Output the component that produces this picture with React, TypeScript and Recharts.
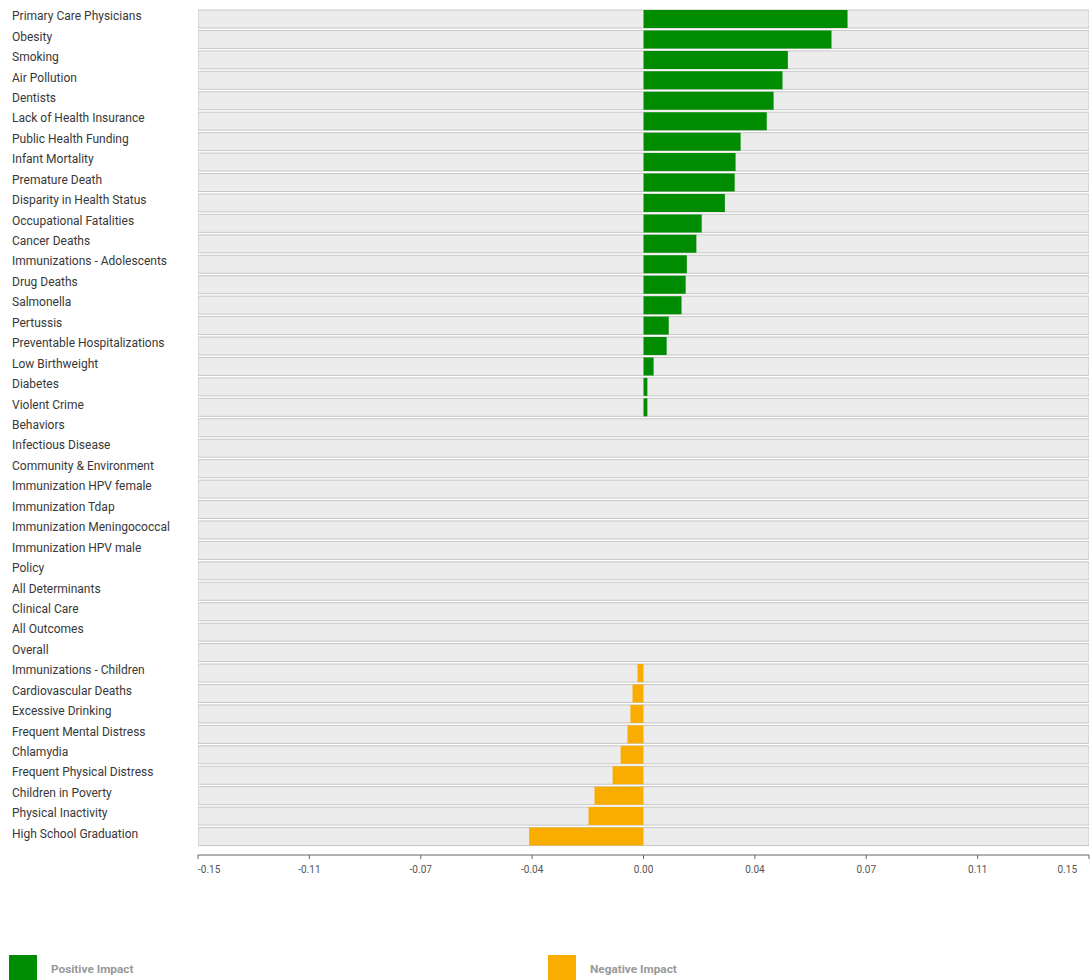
import React from "react";
import { BarChart, Bar, XAxis, YAxis, Cell } from "recharts";

// indicator names, top to bottom
const categories = [
  "Primary Care Physicians",
  "Obesity",
  "Smoking",
  "Air Pollution",
  "Dentists",
  "Lack of Health Insurance",
  "Public Health Funding",
  "Infant Mortality",
  "Premature Death",
  "Disparity in Health Status",
  "Occupational Fatalities",
  "Cancer Deaths",
  "Immunizations - Adolescents",
  "Drug Deaths",
  "Salmonella",
  "Pertussis",
  "Preventable Hospitalizations",
  "Low Birthweight",
  "Diabetes",
  "Violent Crime",
  "Behaviors",
  "Infectious Disease",
  "Community & Environment",
  "Immunization HPV female",
  "Immunization Tdap",
  "Immunization Meningococcal",
  "Immunization HPV male",
  "Policy",
  "All Determinants",
  "Clinical Care",
  "All Outcomes",
  "Overall",
  "Immunizations - Children",
  "Cardiovascular Deaths",
  "Excessive Drinking",
  "Frequent Mental Distress",
  "Chlamydia",
  "Frequent Physical Distress",
  "Children in Poverty",
  "Physical Inactivity",
  "High School Graduation",
];

const impacts = [
  0.0687, 0.0633, 0.0486, 0.0468, 0.0438, 0.0415, 0.0327, 0.031, 0.0307,
  0.0274, 0.0196, 0.0178, 0.0146, 0.0142, 0.0128, 0.0085, 0.0078, 0.0034,
  0.0013, 0.0013, 0, 0, 0, 0, 0, 0, 0, 0, 0, 0, 0, 0, -0.002, -0.0037,
  -0.0044, -0.0054, -0.0077, -0.0104, -0.0165, -0.0185, -0.0385,
];

const xDomain = [-0.15, 0.15];
const xTicks = [-0.15, -0.1125, -0.075, -0.0375, 0, 0.0375, 0.075, 0.1125, 0.15];
const xTickLabels = ["-0.15", "-0.11", "-0.07", "-0.04", "0.00", "0.04", "0.07", "0.11", "0.15"];

const legendLabels = ["Positive Impact", "Negative Impact"];

const GREEN = "#008c00";
const ORANGE = "#f9ad00";

// span = full-width grey track behind each row
const data = categories.map((name, i) => ({ name, value: impacts[i], span: xDomain }));

const CategoryTick = (props: any) => {
  const { y, payload } = props;
  return (
    <text x={12} y={y} dy={1} textAnchor="start" fill="#383838" fontSize={12}>
      {payload.value}
    </text>
  );
};

// first label hangs right of its tick, last one left, the rest centred
const ValueTick = (props: any) => {
  const { x, y, index } = props;
  const last = xTicks.length - 1;
  const anchor = index === 0 ? "start" : index === last ? "end" : "middle";
  return (
    <text x={x} y={y} dy={9} textAnchor={anchor} fill="#555" fontSize={10}>
      {xTickLabels[index]}
    </text>
  );
};

export default function App() {
  return (
    <div style={{ position: "relative", width: 1091, height: 980, fontFamily: "Roboto, sans-serif", overflow: "hidden" }}>
      <style>{`body{margin:0;overflow:hidden}`}</style>
      <BarChart
        width={1091}
        height={885}
        data={data}
        layout="vertical"
        barCategoryGap={1}
        margin={{ top: 9, right: 2, bottom: 0, left: 0 }}
      >
        <XAxis
          type="number"
          domain={xDomain}
          ticks={xTicks}
          stroke="#666"
          tick={<ValueTick />}
          tickSize={4}
          tickMargin={5}
          height={30}
          allowDataOverflow
        />
        <YAxis
          type="category"
          dataKey="name"
          width={198}
          axisLine={false}
          tickLine={false}
          interval={0}
          tick={<CategoryTick />}
          padding={{ top: 0, bottom: 8 }}
        />
        <YAxis yAxisId="bg" type="category" dataKey="name" hide padding={{ top: 0, bottom: 8 }} />
        <Bar
          yAxisId="bg"
          dataKey="span"
          isAnimationActive={false}
          fill="#ececec"
          stroke="#c6c6c6"
          strokeWidth={1}
        />
        <Bar dataKey="value" isAnimationActive={false}>
          {data.map((d, i) => (
            <Cell key={i} fill={d.value >= 0 ? GREEN : ORANGE} />
          ))}
        </Bar>
      </BarChart>
      {legendLabels.map((label, i) => (
        <div
          key={label}
          style={{ position: "absolute", top: 955, left: i === 0 ? 9 : 548, display: "flex", alignItems: "center" }}
        >
          <div style={{ width: 28, height: 28, background: i === 0 ? GREEN : ORANGE }} />
          <span style={{ marginLeft: 14, fontSize: 11.8, fontWeight: 700, color: "#999" }}>{label}</span>
        </div>
      ))}
    </div>
  );
}
